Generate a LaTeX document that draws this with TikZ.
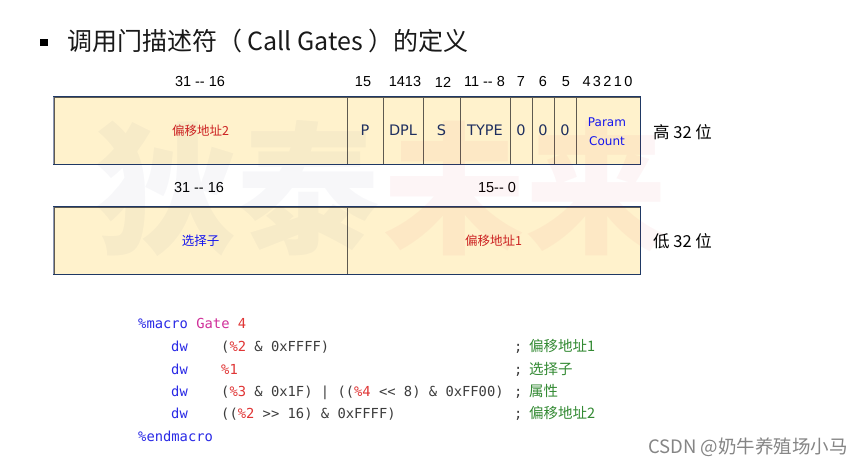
\documentclass[tikz,border=0pt]{standalone}
\usepackage{fontspec}
\setmonofont{DejaVu Sans Mono}
\newfontfamily\cjk{Noto Sans CJK SC}
\newfontfamily\arial{Liberation Sans}
\newfontfamily\dvs{DejaVu Sans}
\definecolor{boxfill}{HTML}{FFF2CC}
\definecolor{navy}{HTML}{1F3864}
\definecolor{leftedge}{HTML}{8A96B4}
\definecolor{divc}{HTML}{5E5A50}
\definecolor{fldtxt}{HTML}{1F2F5F}
\definecolor{redtxt}{HTML}{CC2222}
\definecolor{bluetxt}{HTML}{1515EE}
\definecolor{kwblue}{HTML}{2A2AE6}
\definecolor{magtxt}{HTML}{D0309A}
\definecolor{argred}{HTML}{E03535}
\definecolor{codegray}{HTML}{3C3C3C}
\definecolor{cmtgreen}{HTML}{338A33}
\definecolor{wmblue}{HTML}{203070}
\definecolor{wmred}{HTML}{E0203A}
\newcommand{\dd}{\mbox{-}\mbox{-}}
\newcommand{\ar}[1]{\textcolor{argred}{#1}}
\tikzset{
  cell/.style={draw=divc, fill=boxfill, minimum height=67pt, inner sep=0pt, line width=0.8pt},
  bitlbl/.style={font=\arial\fontsize{14.5}{16}\selectfont, text=black, inner sep=0pt},
  fld/.style={font=\dvs\fontsize{14.5}{16}\selectfont, text=fldtxt},
  cjklbl/.style={font=\cjk\fontsize{12.5}{14}\selectfont},
  codetxt/.style={font=\ttfamily\fontsize{13.8}{16}\selectfont, text=codegray, anchor=base west, inner sep=0pt},
  cmt/.style={font=\cjk\fontsize{14.5}{16}\selectfont, text=cmtgreen, anchor=base west, inner sep=0pt},
  side/.style={font=\cjk\fontsize{16.5}{18}\selectfont, text=black, anchor=west, inner sep=0pt},
  wmark/.style={font=\cjk\bfseries\fontsize{142}{150}\selectfont, inner sep=0pt},
}
\begin{document}
\begin{tikzpicture}[x=1pt,y=-1pt]
\useasboundingbox[fill=white] (0,0) rectangle (863,467);

% title
\node[fill=black, minimum width=7.5pt, minimum height=7pt, inner sep=0pt] (bullet) at (44,42) {};
\node[anchor=west, inner sep=0pt, font=\cjk\fontsize{25}{28}\selectfont, text=black!90] (title) at (67,41) {调用门描述符（ Call Gates ）的定义};

% bit numbers, high dword
\node[bitlbl] (b3116a) at (200,82) {31 \dd{} 16};
\node[bitlbl] (b15) at (363,82) {15};
\node[bitlbl] (b1413) at (405,82) {1413};
\node[bitlbl] (b12) at (443,82) {12};
\node[bitlbl] (b118) at (484.5,82) {11 \dd{} 8};
\node[bitlbl] (b7) at (521,82) {7};
\node[bitlbl] (b6) at (543,82) {6};
\node[bitlbl] (b5) at (566,82) {5};
\node[bitlbl] (b40) at (607.5,82) {4\,3\,2\,1\,0};

% high dword cells
\node[cell, minimum width=293pt] (off2) at (200.5,130.5) {};
\node[cell, minimum width=36pt] (pf) at (365,130.5) {};
\node[cell, minimum width=40pt] (dpl) at (403,130.5) {};
\node[cell, minimum width=37pt] (sf) at (441.5,130.5) {};
\node[cell, minimum width=50pt] (type) at (485,130.5) {};
\node[cell, minimum width=22pt] (z7) at (521,130.5) {};
\node[cell, minimum width=22pt] (z6) at (543,130.5) {};
\node[cell, minimum width=22pt] (z5) at (565,130.5) {};
\node[cell, minimum width=64pt] (pc) at (608,130.5) {};
\draw[navy, line width=0.9pt] (off2.north west) rectangle (pc.south east);
\draw[leftedge, line width=1.2pt] (off2.north west) -- (off2.south west);

% bit numbers, low dword
\node[bitlbl] (b3116b) at (199,188) {31 \dd{} 16};
\node[bitlbl] (b150) at (497,188) {15\dd{} 0};

% low dword cells
\node[cell, minimum width=293pt] (sel) at (200.5,240.5) {};
\node[cell, minimum width=293pt] (off1) at (493.5,240.5) {};
\draw[navy, line width=0.9pt] (sel.north west) rectangle (off1.south east);
\draw[leftedge, line width=1.2pt] (sel.north west) -- (sel.south west);

% watermark
\node[wmark, text=wmblue, text opacity=0.035, anchor=east] (wm1) at (380,188) {狄泰};
\node[wmark, text=wmred, text opacity=0.045, anchor=west] (wm2) at (383,188) {未来};

% field texts
\node[cjklbl, text=redtxt] (t-off2) at (off2) {偏移地址2};
\node[fld] (t-p) at (pf) {P};
\node[fld] (t-dpl) at (dpl) {DPL};
\node[fld] (t-s) at (sf) {S};
\node[fld] (t-type) at (type) {TYPE};
\node[fld] (t-z7) at (z7) {0};
\node[fld] (t-z6) at (z6) {0};
\node[fld] (t-z5) at (z5) {0};
\node[font=\dvs\fontsize{12}{18.5}\selectfont, text=bluetxt, align=center] (t-pc) at (607,131.5) {Param\\Count};
\node[cjklbl, text=bluetxt] (t-sel) at (sel) {选择子};
\node[cjklbl, text=redtxt] (t-off1) at (off1) {偏移地址1};

% side labels
\node[side] (hi) at (653,132) {高 32 位};
\node[side] (lo) at (653,241) {低 32 位};

% code
\node[codetxt] (c1) at (138,328) {\textcolor{kwblue}{\%macro} \textcolor{magtxt}{Gate} \textcolor{argred}{4}};
\node[codetxt, text=kwblue] (k2) at (171,351) {dw};
\node[codetxt] (e2) at (221,351) {(\ar{\%2} \& 0xFFFF)};
\node[codetxt] (s2) at (514,351) {;};
\node[cmt] (m2) at (529,351) {偏移地址1};
\node[codetxt, text=kwblue] (k3) at (171,374) {dw};
\node[codetxt] (e3) at (221,374) {\ar{\%1}};
\node[codetxt] (s3) at (514,374) {;};
\node[cmt] (m3) at (529,374) {选择子};
\node[codetxt, text=kwblue] (k4) at (171,396) {dw};
\node[codetxt] (e4) at (221,396) {(\ar{\%3} \& 0x1F) | ((\ar{\%4} <{}< 8) \& 0xFF00)};
\node[codetxt] (s4) at (514,396) {;};
\node[cmt] (m4) at (529,396) {属性};
\node[codetxt, text=kwblue] (k5) at (171,418) {dw};
\node[codetxt] (e5) at (221,418) {((\ar{\%2} >{}> 16) \& 0xFFFF)};
\node[codetxt] (s5) at (514,418) {;};
\node[cmt] (m5) at (529,418) {偏移地址2};
\node[codetxt, text=kwblue] (c6) at (138,441) {\%endmacro};

% CSDN mark
\node[anchor=east, inner sep=0pt, font=\cjk\fontsize{18.5}{20}\selectfont, text=black!48] (csdn) at (848,447) {CSDN @奶牛养殖场小马};
\end{tikzpicture}
\end{document}
